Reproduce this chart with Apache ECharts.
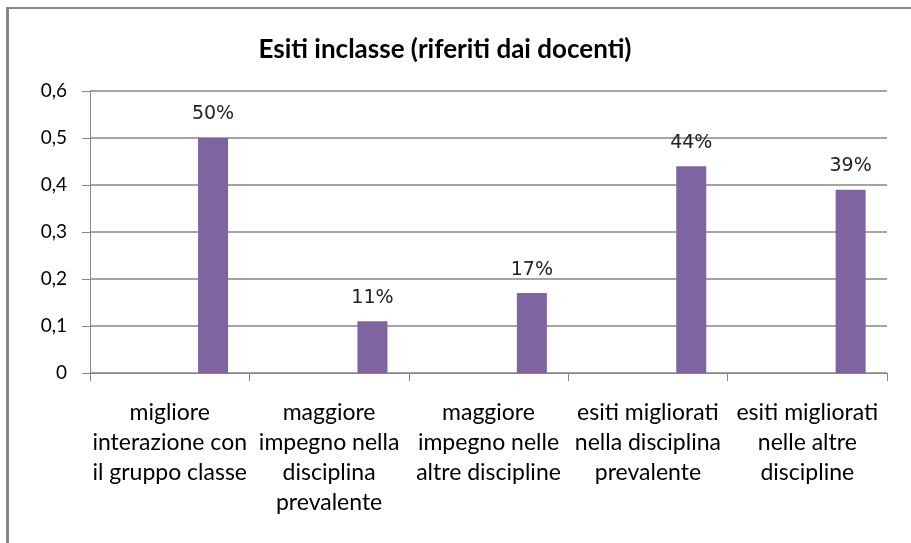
<!DOCTYPE html>
<html>
<head>
<meta charset="utf-8">
<script src="https://cdn.jsdelivr.net/npm/echarts@6/dist/echarts.min.js"></script>
<style>
html,body{margin:0;padding:0;background:#fff;}
#chart{width:911px;height:543px;}
</style>
</head>
<body>
<div id="chart"></div>
<script>
const titleText = 'Esiti inclasse (riferiti dai docenti)';
const categories = [
  'migliore\ninterazione con\nil gruppo classe',
  'maggiore\nimpegno nella\ndisciplina\nprevalente',
  'maggiore\nimpegno nelle\naltre discipline',
  'esiti migliorati\nnella disciplina\nprevalente',
  'esiti migliorati\nnelle altre\ndiscipline'
];
const values = [0.50, 0.11, 0.17, 0.44, 0.39];
const emptyValues = [null, null, null, null, null];
const yMin = 0, yMax = 0.6, yStep = 0.1;

const grey = '#868686';
const chart = echarts.init(document.getElementById('chart'), null, {renderer: 'canvas'});
chart.setOption({
  backgroundColor: '#fff',
  animation: false,
  title: {
    text: titleText,
    left: 440, top: 32, textAlign: 'center',
    textStyle: {fontFamily: 'Lato', fontWeight: 'bold', fontSize: 26, color: '#000'}
  },
  graphic: [
    {type: 'line', shape: {x1: 7.5, y1: 8, x2: 911, y2: 8}, style: {stroke: grey, lineWidth: 2}},
    {type: 'line', shape: {x1: 7.5, y1: 7, x2: 7.5, y2: 543}, style: {stroke: grey, lineWidth: 3}}
  ],
  grid: {left: 90, right: 24, top: 91, bottom: 170, containLabel: false},
  xAxis: {
    type: 'category',
    data: categories,
    boundaryGap: true,
    axisLine: {lineStyle: {color: grey, width: 1}},
    axisTick: {show: true, length: 8, lineStyle: {color: grey}},
    axisLabel: {
      interval: 0, margin: 25,
      fontFamily: 'Lato', fontSize: 23, lineHeight: 30, color: '#000', align: 'center'
    }
  },
  yAxis: {
    type: 'value',
    min: yMin, max: yMax, interval: yStep,
    axisLine: {show: true, lineStyle: {color: grey, width: 1}},
    axisTick: {show: true, length: 8, lineStyle: {color: grey}},
    splitLine: {show: true, lineStyle: {color: grey, width: 1.5}},
    axisLabel: {
      margin: 23,
      fontFamily: 'Lato', fontSize: 19, color: '#000',
      formatter: v => v === 0 ? '0' : v.toFixed(1).replace('.', ',')
    }
  },
  series: [
    {type: 'bar', data: emptyValues, barWidth: 30, barGap: '189%', itemStyle: {color: 'transparent'}},
    {
      type: 'bar', data: values, barWidth: 30, barGap: '189%',
      itemStyle: {color: '#8064A2'},
      label: {
        show: true, position: 'top', distance: 14,
        fontFamily: 'DejaVu Sans', fontSize: 19, color: '#222',
        formatter: p => Math.round(p.value * 100) + '%'
      }
    }
  ]
});
</script>
</body>
</html>
